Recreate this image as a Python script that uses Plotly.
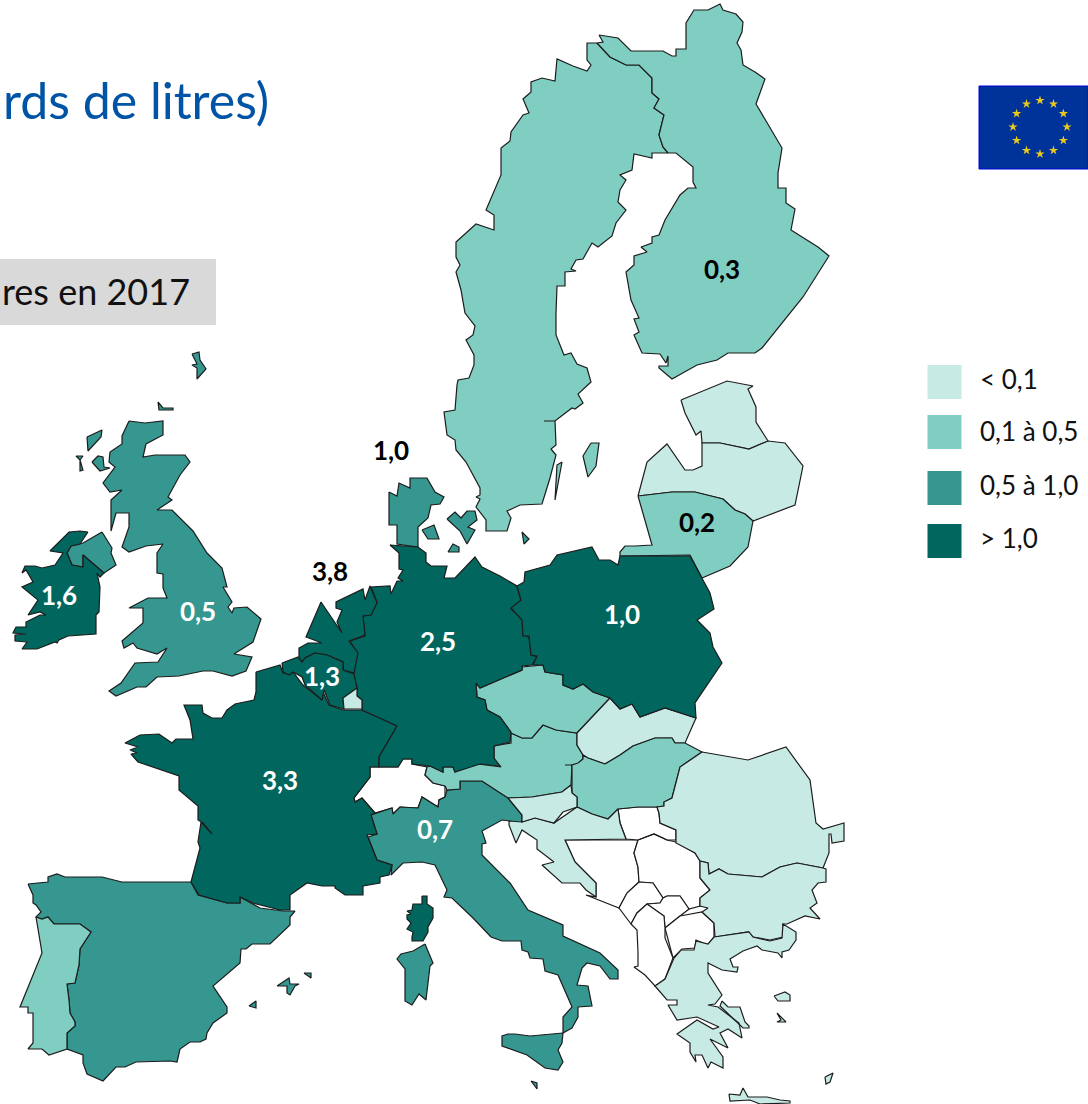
import plotly.graph_objects as go

# Volume classes (milliards de litres)
CLASS_LABELS = ["< 0,1", "0,1 à 0,5", "0,5 à 1,0", "> 1,0"]
CLASS_COLORS = ["#C7EAE5", "#80CDC1", "#35978F", "#01665E"]
NONE_CLASS = -1

SWEDEN = [(597,43),(587,43),(587,60),(591,65),(587,71),(573,66),(557,59),(555,81),(542,78),(531,82),(531,92),(523,99),(529,113),(523,115),(511,132),(510,141),(501,148),(501,175),(486,210),(494,215),(494,230),(476,224),(456,242),(456,257),(460,265),(456,272),(461,290),(465,313),(475,326),(473,335),(466,340),(474,355),(474,365),(469,378),(458,380),(457,385),(455,410),(444,412),(447,435),(455,440),(456,450),(466,462),(480,488),(480,495),(476,497),(480,499),(476,507),(486,520),(486,531),(507,531),(511,518),(507,511),(520,505),(542,504),(550,478),(556,455),(551,449),(556,445),(555,421),(544,421),(555,421),(572,408),(575,409),(583,403),(578,394),(591,382),(590,378),(587,368),(577,364),(571,353),(564,355),(556,335),(556,313),(557,286),(565,286),(565,272),(576,271),(571,269),(576,260),(583,259),(592,243),(598,247),(612,236),(616,223),(626,210),(618,202),(620,190),(626,180),(620,175),(632,170),(634,154),(652,158),(652,153),(668,153),(663,147),(659,135),(664,115),(654,108),(659,99),(652,93),(652,78),(639,65),(626,65),(610,57)]
GOTLAND = [(591,443),(599,443),(596,466),(588,477),(583,456)]
OLAND = [(562,462),(555,500),(557,465)]
FINLAND = [(599,35),(618,38),(631,51),(653,51),(663,51),(672,56),(676,56),(676,49),(686,49),(686,23),(694,10),(708,10),(720,4),(723,10),(736,14),(743,22),(742,32),(737,43),(741,50),(743,65),(755,72),(765,79),(756,104),(782,148),(778,173),(778,188),(786,188),(786,203),(795,209),(791,230),(818,247),(829,256),(803,297),(762,348),(755,353),(728,353),(717,360),(697,365),(672,379),(659,368),(659,366),(668,366),(668,356),(666,363),(660,354),(642,353),(634,335),(639,332),(634,319),(639,318),(631,300),(626,272),(634,265),(634,256),(647,252),(641,247),(652,243),(652,237),(659,235),(665,220),(680,195),(688,188),(696,188),(693,182),(693,167),(676,153),(668,153),(663,147),(659,135),(664,115),(654,108),(659,99),(652,93),(652,78),(639,65),(626,65),(610,57),(597,43),(603,42)]
ESTONIA = [(681,400),(727,381),(753,386),(748,389),(756,407),(756,422),(768,441),(749,449),(720,443),(702,443),(701,431),(696,435),(685,413)]
LATVIA = [(638,496),(647,462),(667,444),(685,470),(693,470),(702,466),(702,443),(720,443),(749,449),(768,441),(785,443),(803,466),(795,505),(753,521),(745,514),(735,510),(723,499),(695,492),(672,492)]
LITHUANIA = [(638,496),(652,545),(635,546),(625,546),(620,552),(620,556),(690,555),(702,578),(730,566),(748,547),(753,521),(745,514),(735,510),(723,499),(695,492),(672,492)]
POLAND = [(517,586),(524,582),(525,572),(550,565),(557,555),(592,547),(599,560),(610,560),(618,565),(620,556),(690,556),(702,578),(710,593),(714,609),(697,620),(710,633),(713,647),(722,663),(695,703),(696,718),(665,708),(640,717),(632,704),(620,709),(610,698),(593,692),(583,684),(573,689),(563,685),(563,675),(545,672),(543,665),(533,665),(537,656),(531,655),(529,636),(523,636),(522,620),(511,608),(521,600)]
GERMANY = [(390,545),(418,547),(426,553),(426,562),(431,566),(447,566),(444,578),(455,578),(475,557),(482,567),(500,576),(517,586),(521,601),(511,609),(523,620),(523,635),(529,637),(531,655),(537,657),(532,665),(522,666),(522,670),(480,688),(476,683),(477,697),(485,700),(487,710),(500,717),(511,732),(510,742),(494,746),(494,758),(500,766),(480,764),(455,772),(453,767),(443,767),(443,772),(430,766),(412,764),(412,759),(403,759),(398,767),(379,767),(379,757),(397,726),(382,719),(362,710),(362,700),(356,695),(357,688),(353,673),(355,657),(357,653),(350,641),(365,636),(363,616),(371,615),(377,602),(371,587),(390,586),(391,594),(397,581),(403,581),(398,578),(403,570),(399,569),(399,553)]
NETHERLANDS = [(321,602),(342,633),(337,622),(342,610),(336,608),(336,602),(363,589),(365,600),(370,586),(377,603),(371,615),(363,616),(365,635),(349,641),(358,653),(354,673),(343,670),(343,662),(327,655),(315,653),(305,658),(302,662),(299,657),(299,648),(308,643),(322,643),(306,637)]
BELGIUM = [(282,663),(298,657),(302,662),(305,658),(315,653),(327,655),(343,662),(343,670),(354,674),(357,688),(343,698),(344,709),(330,705),(324,690),(322,700),(305,685),(302,677),(293,672),(289,675),(283,672)]
LUXEMBOURG = [(357,688),(343,698),(344,709),(362,709),(362,700),(357,696)]
FRANCE = [(256,672),(280,665),(283,673),(293,672),(303,685),(322,700),(323,692),(329,705),(343,710),(362,710),(382,719),(397,726),(379,757),(379,767),(370,767),(370,777),(354,798),(355,802),(362,798),(375,813),(371,815),(377,834),(367,835),(377,860),(392,865),(389,875),(380,877),(380,883),(363,886),(363,895),(345,895),(335,888),(335,886),(322,886),(307,883),(290,895),(290,910),(280,910),(253,903),(240,897),(240,903),(227,903),(199,895),(191,882),(200,848),(198,842),(201,822),(212,834),(203,823),(198,820),(198,806),(179,790),(179,776),(138,762),(131,754),(137,753),(130,750),(138,747),(125,743),(140,735),(159,734),(172,743),(176,739),(193,739),(190,720),(184,705),(202,705),(203,713),(212,718),(222,718),(227,710),(235,704),(254,700),(256,692)]
CORSICA = [(422,896),(427,896),(427,904),(433,908),(433,918),(428,927),(428,932),(423,941),(412,941),(412,937),(413,932),(407,929),(411,923),(407,919),(407,915),(411,914),(407,911),(412,910),(413,904),(422,904)]
SARDINIA = [(425,944),(433,963),(430,966),(426,1000),(419,994),(412,1005),(405,1001),(405,969),(397,959),(401,954),(413,951)]
ITALY = [(482,781),(508,798),(522,815),(522,827),(510,821),(502,820),(482,831),(486,843),(482,844),(482,855),(510,883),(528,910),(563,925),(563,936),(600,953),(618,970),(618,979),(610,979),(600,966),(587,963),(582,968),(577,985),(588,986),(592,1006),(578,1007),(578,1017),(572,1028),(563,1033),(563,1017),(572,1007),(558,975),(545,971),(543,959),(530,958),(528,952),(522,950),(521,941),(502,941),(491,937),(473,918),(452,898),(444,897),(447,890),(435,865),(422,862),(403,863),(391,875),(392,865),(377,860),(368,837),(377,834),(371,815),(392,808),(393,814),(400,807),(418,808),(422,797),(438,807),(439,800),(445,797),(447,790),(460,789),(460,781)]
SICILY = [(563,1033),(562,1043),(558,1050),(563,1062),(558,1070),(545,1068),(527,1055),(502,1046),(502,1036),(508,1034),(515,1034),(530,1036)]
MALTA = [(531,1081),(537,1083),(537,1089)]
AUSTRIA = [(427,767),(425,775),(433,783),(445,786),(447,790),(460,789),(460,781),(482,781),(508,798),(532,797),(562,792),(571,785),(572,765),(565,765),(577,765),(583,759),(583,755),(577,745),(577,733),(556,730),(543,725),(532,738),(522,738),(511,733),(511,743),(494,746),(494,760),(501,767),(478,764),(460,770),(455,772),(453,767),(443,767),(443,772),(430,766)]
CZECHIA = [(522,667),(543,665),(545,672),(563,675),(563,685),(573,689),(583,684),(593,692),(610,698),(577,733),(556,730),(543,725),(532,738),(522,738),(511,733),(500,717),(487,710),(485,700),(477,697),(476,683),(480,688),(522,670)]
SLOVAKIA = [(610,698),(620,709),(632,704),(640,717),(665,708),(696,718),(685,743),(675,743),(672,738),(655,738),(633,746),(620,755),(605,764),(588,758),(583,755),(577,745),(577,733)]
HUNGARY = [(605,764),(588,758),(583,755),(583,759),(578,763),(572,765),(572,793),(577,797),(577,807),(592,814),(608,819),(618,809),(638,807),(657,807),(664,806),(664,802),(672,798),(680,767),(702,752),(685,743),(675,743),(672,738),(655,738),(633,746),(620,755)]
ROMANIA = [(702,752),(748,760),(786,747),(810,780),(816,823),(823,829),(844,823),(844,841),(832,843),(831,834),(829,834),(829,853),(823,868),(797,863),(780,867),(762,877),(728,874),(719,869),(709,874),(708,863),(700,861),(695,853),(676,843),(676,830),(660,823),(659,813),(657,807),(664,806),(664,802),(672,798),(680,767)]
BULGARIA = [(700,861),(708,863),(709,874),(719,869),(728,874),(762,877),(780,867),(797,863),(823,868),(826,869),(826,882),(818,883),(812,890),(817,903),(810,908),(820,919),(805,916),(787,924),(783,924),(783,937),(770,940),(753,937),(748,932),(715,937),(714,923),(702,912),(708,908),(700,906),(700,898),(710,890),(700,878)]
GREECE = [(714,937),(749,932),(753,937),(770,941),(782,938),(783,924),(796,932),(796,940),(789,950),(782,952),(782,958),(778,953),(762,950),(757,946),(743,951),(730,959),(733,967),(738,967),(737,972),(722,970),(708,963),(708,973),(722,995),(715,1004),(708,1005),(718,1007),(739,1023),(742,1038),(728,1029),(720,1033),(728,1048),(710,1039),(723,1057),(723,1068),(711,1062),(708,1068),(702,1055),(695,1055),(696,1062),(690,1052),(690,1043),(677,1034),(697,1020),(713,1029),(719,1027),(697,1017),(677,1020),(668,1005),(677,1005),(677,1000),(667,1000),(655,986),(665,979),(674,958),(681,950),(694,950),(696,941),(708,944)]
EVIA = [(722,1001),(728,1007),(740,1007),(745,1022),(749,1026),(749,1028),(743,1028),(720,1006)]
CRETE = [(729,1094),(740,1095),(743,1088),(748,1097),(767,1097),(780,1100),(790,1101),(790,1103),(760,1104),(750,1100),(730,1101)]
LESBOS = [(774,996),(785,992),(790,995),(790,1001),(782,1001),(778,1001)]
CHIOS = [(777,1013),(786,1022),(777,1022),(781,1020)]
RHODES = [(825,1077),(833,1073),(830,1082),(826,1084)]
BOSNIA = [(565,840),(638,840),(634,853),(638,867),(639,882),(627,893),(619,908),(586,895),(596,897),(596,883),(575,862)]
SERBIA = [(638,840),(654,834),(667,840),(676,842),(695,853),(700,861),(700,878),(710,890),(700,898),(700,906),(689,909),(680,896),(667,896),(663,898),(653,883),(639,882),(638,867),(634,853)]
VOJVODINA = [(618,809),(638,807),(657,807),(659,813),(660,823),(676,830),(676,840),(667,840),(654,834),(638,840),(626,839),(620,823)]
MONTENEGRO = [(639,882),(653,883),(663,898),(660,903),(647,904),(637,913),(631,924),(619,908),(627,893)]
KOSOVO = [(663,898),(667,896),(680,896),(689,909),(680,916),(665,928),(664,916),(647,904),(660,903)]
MACEDONIA = [(680,916),(702,912),(714,923),(714,937),(708,945),(696,940),(695,948),(682,949),(673,958),(665,928)]
ALBANIA = [(631,924),(637,913),(647,904),(664,916),(665,928),(665,938),(673,958),(665,979),(655,986),(645,975),(634,967),(638,966),(638,952),(637,930)]
CROATIA = [(509,821),(522,822),(535,818),(554,823),(577,807),(592,814),(608,819),(618,809),(620,823),(626,839),(565,840),(575,862),(596,883),(596,897),(586,890),(580,883),(562,883),(542,865),(554,862),(537,849),(537,840),(522,830),(516,843),(509,825)]
SLOVENIA = [(508,798),(532,797),(562,792),(571,785),(572,793),(577,797),(577,807),(563,812),(554,823),(535,818),(522,822),(522,815)]
SWITZERLAND = [(370,767),(398,767),(403,759),(412,759),(412,764),(427,767),(425,775),(433,783),(445,786),(445,797),(439,800),(438,807),(422,797),(418,808),(400,807),(393,814),(392,808),(375,813),(362,798),(355,802),(354,798),(370,777)]
SPAIN = [(28,884),(48,882),(48,877),(57,874),(65,877),(102,877),(122,882),(191,882),(198,895),(227,903),(240,903),(240,897),(260,908),(283,911),(295,911),(290,917),(290,925),(270,944),(252,944),(246,949),(241,949),(240,963),(213,986),(227,1007),(227,1013),(213,1023),(207,1033),(206,1039),(200,1042),(190,1042),(180,1049),(177,1062),(170,1061),(136,1062),(125,1067),(116,1067),(103,1081),(87,1074),(83,1063),(83,1055),(67,1049),(67,1033),(75,1026),(75,1022),(70,1013),(69,1000),(67,984),(75,983),(79,965),(80,949),(91,932),(80,924),(54,924),(48,917),(42,919),(36,917),(41,912),(36,905),(33,903),(33,895)]
PORTUGAL = [(36,917),(42,919),(48,917),(54,924),(80,924),(91,932),(80,949),(79,965),(75,983),(67,984),(69,1000),(70,1013),(75,1022),(75,1026),(67,1033),(67,1049),(49,1055),(42,1049),(28,1049),(33,1043),(33,1013),(28,1013),(28,1007),(20,1007),(42,953)]
MALLORCA = [(277,986),(289,978),(290,984),(299,984),(295,986),(290,995),(287,993),(287,986)]
MENORCA = [(304,973),(311,973),(311,978)]
IBIZA = [(249,1006),(256,1001),(256,1008)]
UK = [(129,421),(145,423),(163,421),(163,435),(146,444),(143,457),(155,455),(185,455),(190,462),(180,475),(168,497),(172,500),(157,510),(172,510),(193,531),(207,553),(222,568),(227,587),(223,587),(232,602),(228,607),(232,613),(234,608),(247,607),(261,619),(253,642),(234,654),(252,657),(246,671),(232,676),(213,671),(203,671),(179,676),(157,677),(146,687),(137,687),(116,696),(109,691),(121,683),(135,663),(158,662),(167,648),(157,654),(137,648),(133,643),(124,648),(122,641),(143,623),(143,608),(129,608),(148,598),(167,598),(163,588),(163,574),(157,573),(157,553),(163,544),(146,546),(129,552),(122,547),(129,527),(129,513),(116,513),(111,531),(111,500),(122,490),(110,492),(103,483),(115,467),(109,462),(110,452),(122,444),(122,436)]
N_IRELAND = [(102,532),(112,548),(111,553),(116,565),(104,573),(98,568),(83,555),(83,567),(72,565),(67,553),(71,546),(83,543)]
IRELAND = [(88,532),(80,544),(71,546),(67,553),(72,565),(83,567),(83,555),(98,568),(104,573),(100,577),(97,573),(100,587),(99,612),(96,615),(96,634),(68,636),(59,640),(57,643),(55,642),(37,649),(22,649),(27,642),(15,641),(15,635),(26,634),(13,633),(16,627),(26,627),(26,622),(40,615),(46,615),(40,612),(28,615),(38,600),(22,587),(33,582),(26,570),(22,573),(25,566),(35,566),(42,568),(55,565),(63,553),(50,551),(69,532),(80,531)]
SHETLAND = [(192,354),(199,352),(200,360),(206,369),(197,379),(197,368),(192,365),(197,364)]
ORKNEY = [(158,402),(163,408),(173,408),(173,410),(159,410)]
LEWIS = [(87,437),(102,430),(101,437),(88,451)]
UIST = [(76,456),(83,456),(80,460),(83,470),(80,471),(80,460)]
SKYE = [(92,462),(98,456),(103,457),(104,467),(110,468),(100,471)]
JUTLAND = [(389,492),(397,496),(399,483),(410,488),(410,478),(427,478),(435,492),(444,497),(440,504),(431,505),(428,518),(418,527),(418,547),(397,544),(397,525),(389,525)]
FUNEN = [(422,530),(434,525),(439,539),(428,539)]
ZEALAND = [(447,519),(455,512),(461,518),(467,511),(475,511),(477,520),(468,527),(475,530),(467,544),(460,531)]
LOLLAND = [(448,552),(453,544),(459,547),(459,552)]
BORNHOLM = [(522,532),(529,539),(524,544)]

# name, class index, outlines; drawn in this order
COUNTRIES = [
    ("Bosnie", NONE_CLASS, [BOSNIA]), ("Serbie", NONE_CLASS, [SERBIA, VOJVODINA]),
    ("Monténégro", NONE_CLASS, [MONTENEGRO]), ("Kosovo", NONE_CLASS, [KOSOVO]),
    ("Macédoine", NONE_CLASS, [MACEDONIA]), ("Albanie", NONE_CLASS, [ALBANIA]),
    ("Suisse", NONE_CLASS, [SWITZERLAND]),
    ("Suède", 1, [SWEDEN, GOTLAND, OLAND]), ("Finlande", 1, [FINLAND]),
    ("Estonie", 0, [ESTONIA]), ("Lettonie", 0, [LATVIA]), ("Lituanie", 1, [LITHUANIA]),
    ("Espagne", 2, [SPAIN, MALLORCA, MENORCA, IBIZA]), ("Portugal", 1, [PORTUGAL]),
    ("Italie", 2, [ITALY, SICILY, SARDINIA, MALTA]),
    ("Autriche", 1, [AUSTRIA]), ("Tchéquie", 1, [CZECHIA]), ("Slovaquie", 0, [SLOVAKIA]),
    ("Hongrie", 1, [HUNGARY]), ("Roumanie", 0, [ROMANIA]), ("Bulgarie", 0, [BULGARIA]),
    ("Grèce", 0, [GREECE, EVIA, CRETE, LESBOS, CHIOS, RHODES]),
    ("Croatie", 0, [CROATIA]), ("Slovénie", 0, [SLOVENIA]),
    ("Royaume-Uni", 2, [UK, N_IRELAND, SHETLAND, ORKNEY, LEWIS, UIST, SKYE]),
    ("Irlande", 3, [IRELAND]),
    ("Danemark", 2, [JUTLAND, FUNEN, ZEALAND, LOLLAND, BORNHOLM]),
    ("France", 3, [FRANCE, CORSICA]), ("Allemagne", 3, [GERMANY]),
    ("Pays-Bas", 3, [NETHERLANDS]), ("Belgique", 3, [BELGIUM]),
    ("Luxembourg", 0, [LUXEMBOURG]), ("Pologne", 3, [POLAND]),
]

VALUE_TEXT = ["0,3", "0,2", "1,0", "2,5", "1,3", "1,6", "0,5", "3,3", "0,7"]
VALUE_X = [722, 697, 622, 438, 322, 59, 198, 280, 435]
VALUE_Y = [272, 525, 617, 644, 679, 598, 614, 783, 832]
VALUE_COLOR = ["black", "black", "white", "white", "white", "white", "white", "white", "white"]
OUTSIDE_TEXT = ["1,0", "3,8"]
OUTSIDE_X = [391, 330]
OUTSIDE_Y = [453, 574]

LEGEND_X = [944.5, 944.5, 944.5, 944.5]
LEGEND_Y = [382, 432, 488, 541]
LEGEND_TEXT_X = [980, 980, 980, 980]
LEGEND_TEXT_Y = [382, 434, 488, 541]
STAR_X = [1040, 1053.5, 1063.4, 1067, 1063.4, 1053.5, 1040, 1026.5, 1016.6, 1013, 1016.6, 1026.5]
STAR_Y = [100.5, 104, 113.6, 127, 140.4, 150.4, 154, 150.4, 140.4, 127, 113.6, 104]

OUTLINE = "#1c1c1c"
FONT = "Lato"

fig = go.Figure()


def closed_xy(polys):
    xs, ys = [], []
    for poly in polys:
        pts = list(poly) + [poly[0]]
        xs += [p[0] for p in pts] + [None]
        ys += [p[1] for p in pts] + [None]
    return xs, ys


for name, cls, polys in COUNTRIES:
    xs, ys = closed_xy(polys)
    fill = "#FFFFFF" if cls == NONE_CLASS else CLASS_COLORS[cls]
    fig.add_trace(go.Scatter(x=xs, y=ys, mode="lines", fill="toself", fillcolor=fill,
                             line=dict(color=OUTLINE, width=1.2), name=name,
                             hoverinfo="name", showlegend=False))

fig.add_trace(go.Scatter(x=LEGEND_X, y=LEGEND_Y, mode="markers",
                         marker=dict(symbol="square", size=34, color=CLASS_COLORS, line=dict(width=0)),
                         hoverinfo="skip", showlegend=False))
fig.add_trace(go.Scatter(x=LEGEND_TEXT_X, y=LEGEND_TEXT_Y, mode="text", text=CLASS_LABELS,
                         textposition="middle right",
                         textfont=dict(family=FONT, size=26, color="#111111"),
                         hoverinfo="skip", showlegend=False))
fig.add_trace(go.Scatter(x=VALUE_X, y=VALUE_Y, mode="text", text=VALUE_TEXT,
                         textfont=dict(family=FONT, size=26, color=VALUE_COLOR, weight="bold"),
                         hoverinfo="skip", showlegend=False))
fig.add_trace(go.Scatter(x=OUTSIDE_X, y=OUTSIDE_Y, mode="text", text=OUTSIDE_TEXT,
                         textfont=dict(family=FONT, size=26, color="black", weight="bold"),
                         hoverinfo="skip", showlegend=False))
fig.add_trace(go.Scatter(x=STAR_X, y=STAR_Y, mode="markers",
                         marker=dict(symbol="star", size=7, color="#E8C81E", line=dict(width=0)),
                         hoverinfo="skip", showlegend=False))

fig.update_layout(
    width=1088, height=1104, margin=dict(l=0, r=0, t=0, b=0),
    paper_bgcolor="white", plot_bgcolor="white", showlegend=False,
    xaxis=dict(range=[0, 1088], visible=False, fixedrange=True),
    yaxis=dict(range=[1104, 0], visible=False, fixedrange=True),
    shapes=[
        dict(type="rect", x0=0, x1=216, y0=259, y1=325, fillcolor="#D9D9D9", line=dict(width=0), layer="below"),
        dict(type="rect", x0=979, x1=1088, y0=86, y1=169, fillcolor="#003399",
             line=dict(width=1, color="#0000E0"), layer="below"),
    ],
    annotations=[
        dict(x=271, y=100, xref="x", yref="y", text="rds de litres)", showarrow=False, xanchor="right",
             yanchor="middle", font=dict(family=FONT, size=50, color="#0054A6")),
        dict(x=192, y=291, xref="x", yref="y", text="res en 2017", showarrow=False, xanchor="right",
             yanchor="middle", font=dict(family=FONT, size=36, color="#111111")),
    ],
)
fig.write_html("out.html", config={"displayModeBar": False},
               post_script="document.body.style.margin='0';document.documentElement.style.overflow='hidden';")
